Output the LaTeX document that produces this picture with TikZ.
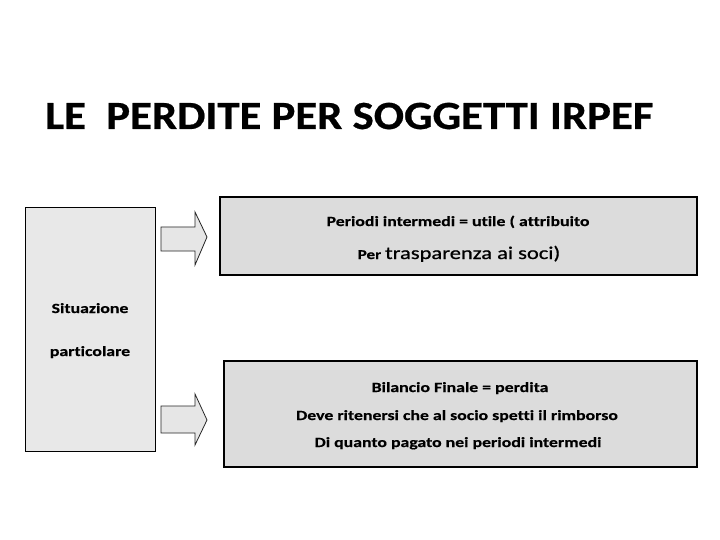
\documentclass[tikz,border=0pt]{standalone}
\usepackage{fontspec}
\setmainfont{Carlito}[Ligatures={NoCommon}]
\newfontfamily\titlef{Carlito}[FakeStretch=1.12, Ligatures={NoCommon}, BoldFeatures={FakeBold=0.6}]
\newfontfamily\bodyf{Carlito}[FakeStretch=1.27, Ligatures={NoCommon}, BoldFeatures={FakeBold=0.5}]
\newfontfamily\bodyreg{Carlito}[FakeStretch=1.25, Ligatures={NoCommon}, FakeBold=0.8]
\definecolor{boxgrey}{HTML}{DCDCDC}
\definecolor{lightgrey}{HTML}{E8E8E8}
\definecolor{arrowgrey}{HTML}{E6E6E6}
\begin{document}
\begin{tikzpicture}[x=1pt,y=-1pt,
  rightbox/.style={draw=black, line width=1.5pt, fill=boxgrey},
  leftbox/.style={draw=black, line width=0.9pt, fill=lightgrey},
  blockarrow/.style={draw=black!85, line width=0.8pt, fill=arrowgrey, line join=miter},
  bodytxt/.style={anchor=base, inner sep=0pt, font=\bodyf\bfseries\fontsize{14}{16}\selectfont},
]
\useasboundingbox (0,0) rectangle (720,540);
\fill[white] (0,0) rectangle (720,540);

% title
\node[anchor=base west, inner sep=0pt, font=\titlef\bfseries\fontsize{40}{48}\selectfont] (title) at (45,129) {LE\ \ PERDITE PER SOGGETTI IRPEF};

% boxes
\path[leftbox] (25,207) rectangle (155,451);
\coordinate (left) at (90,329);
\path[rightbox] (220,197) rectangle (697,275);
\coordinate (top) at (458,236);
\path[rightbox] (224,361) rectangle (697,467);
\coordinate (bottom) at (460,414);

% block arrows
\draw[blockarrow] (161,227) -- (195,227) -- (195,212) -- (207,237) -- (195,265) -- (195,251) -- (161,251) -- cycle;
\draw[blockarrow] (161,406) -- (195,406) -- (195,394) -- (207,420) -- (195,445) -- (195,433) -- (161,433) -- cycle;

% left box text
\node[bodytxt] (s1) at (90,313) {Situazione};
\node[bodytxt] (s2) at (90,356) {particolare};

% top box text
\node[bodytxt] (t1) at (458,226) {Periodi intermedi = utile ( attribuito};
\node[anchor=base, inner sep=0pt] (t2) at (459,259) {{\bodyf\bfseries\fontsize{13.5}{16}\selectfont Per }{\bodyreg\fontsize{18}{20}\selectfont trasparenza ai soci)}};

% bottom box text
\node[bodytxt] (b1) at (460,392) {Bilancio Finale = perdita};
\node[bodytxt] (b2) at (457,420) {Deve ritenersi che al socio spetti il rimborso};
\node[bodytxt] (b3) at (458,447) {Di quanto pagato nei periodi intermedi};
\end{tikzpicture}
\end{document}
